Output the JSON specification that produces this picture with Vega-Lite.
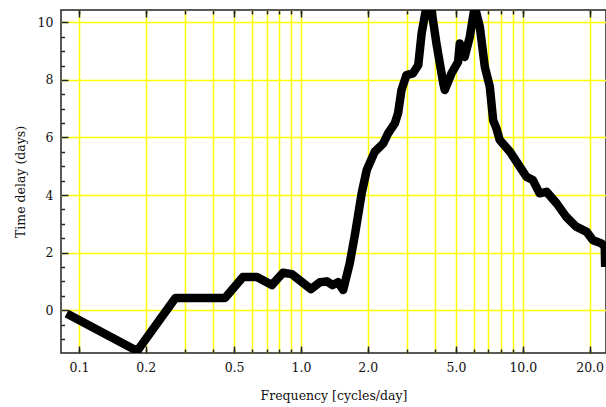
{
  "$schema": "https://vega.github.io/schema/vega-lite/v6.json",
  "autosize": "none",
  "width": 545,
  "height": 343,
  "padding": {"left": 61, "top": 10, "right": 0, "bottom": 54},
  "background": "white",
  "config": {
    "view": {"stroke": "#222", "strokeWidth": 1.5},
    "axis": {"labelFont": "DejaVu Serif", "titleFont": "DejaVu Serif", "labelColor": "#111", "titleColor": "#111", "titleFontWeight": "normal", "domain": false, "tickColor": "#222", "tickWidth": 1.5}
  },
  "data": {"values": [
    {"f": 0.088, "d": -0.12},
    {"f": 0.183, "d": -1.42},
    {"f": 0.272, "d": 0.42},
    {"f": 0.455, "d": 0.42},
    {"f": 0.548, "d": 1.15},
    {"f": 0.634, "d": 1.15},
    {"f": 0.74, "d": 0.87},
    {"f": 0.83, "d": 1.3},
    {"f": 0.91, "d": 1.25},
    {"f": 1.11, "d": 0.73},
    {"f": 1.22, "d": 0.97},
    {"f": 1.31, "d": 1.0},
    {"f": 1.39, "d": 0.87},
    {"f": 1.47, "d": 0.97},
    {"f": 1.55, "d": 0.7},
    {"f": 1.66, "d": 1.63},
    {"f": 1.75, "d": 2.6},
    {"f": 1.88, "d": 4.07},
    {"f": 1.98, "d": 4.87},
    {"f": 2.15, "d": 5.5},
    {"f": 2.35, "d": 5.79},
    {"f": 2.47, "d": 6.14},
    {"f": 2.65, "d": 6.49},
    {"f": 2.74, "d": 6.84},
    {"f": 2.84, "d": 7.65},
    {"f": 2.99, "d": 8.17},
    {"f": 3.2, "d": 8.23},
    {"f": 3.38, "d": 8.52},
    {"f": 3.5, "d": 9.62},
    {"f": 3.68, "d": 10.55},
    {"f": 3.88, "d": 10.4},
    {"f": 4.08, "d": 9.27},
    {"f": 4.38, "d": 7.88},
    {"f": 4.45, "d": 7.65},
    {"f": 4.77, "d": 8.23},
    {"f": 5.11, "d": 8.63},
    {"f": 5.2, "d": 9.27},
    {"f": 5.47, "d": 8.8},
    {"f": 5.77, "d": 9.5},
    {"f": 6.07, "d": 10.55},
    {"f": 6.4, "d": 9.85},
    {"f": 6.74, "d": 8.46},
    {"f": 7.1, "d": 7.76},
    {"f": 7.35, "d": 6.6},
    {"f": 7.6, "d": 6.32},
    {"f": 7.87, "d": 5.91},
    {"f": 8.76, "d": 5.5},
    {"f": 9.7, "d": 4.98},
    {"f": 10.39, "d": 4.63},
    {"f": 11.1, "d": 4.52},
    {"f": 11.9, "d": 4.06},
    {"f": 12.8, "d": 4.11},
    {"f": 14.2, "d": 3.71},
    {"f": 15.7, "d": 3.24},
    {"f": 17.4, "d": 2.9},
    {"f": 19.4, "d": 2.72},
    {"f": 20.7, "d": 2.43},
    {"f": 22.6, "d": 2.32},
    {"f": 23.4, "d": 2.2},
    {"f": 23.5, "d": 1.5}
  ]},
  "resolve": {"axis": {"x": "independent", "y": "independent"}},
  "layer": [
    {
      "mark": {"type": "line", "opacity": 0},
      "encoding": {
        "x": {"field": "f", "type": "quantitative", "scale": {"type": "log", "domain": [0.083, 23.7], "nice": false},
          "axis": {"orient": "bottom", "values": [0.1,0.2,0.3,0.4,0.5,0.6,0.7,0.8,0.9,1,2,3,4,5,6,7,8,9,10,20], "labels": false, "title": null, "grid": true, "gridColor": "#ffff00", "gridWidth": 1.5, "gridOpacity": 1, "tickSize": -4}},
        "y": {"field": "d", "type": "quantitative", "scale": {"domain": [-1.49, 10.43], "nice": false, "zero": false},
          "axis": {"orient": "left", "values": [0,2,4,6,8,10], "labels": false, "title": null, "grid": true, "gridColor": "#ffff00", "gridWidth": 1.5, "gridOpacity": 1, "tickSize": -7}}
      }
    },
    {
      "mark": {"type": "line", "opacity": 0},
      "encoding": {
        "x": {"field": "f", "type": "quantitative",
          "axis": {"orient": "bottom", "values": [0.1,0.2,0.5,1,2,5,10,20], "format": ".1f", "labelFontSize": 12.5, "labelPadding": 15, "tickSize": -7, "title": "Frequency [cycles/day]", "titleFontSize": 12.5, "titlePadding": 16, "labelFlush": false, "grid": false}},
        "y": {"field": "d", "type": "quantitative",
          "axis": {"orient": "left", "values": [-1,-0.5,0.5,1,1.5,2.5,3,3.5,4.5,5,5.5,6.5,7,7.5,8.5,9,9.5], "labels": false, "title": "Time delay (days)", "titleFontSize": 12.5, "titlePadding": 33, "tickSize": -3.5, "grid": false}}
      }
    },
    {
      "mark": {"type": "line", "opacity": 0},
      "encoding": {
        "x": {"field": "f", "type": "quantitative",
          "axis": {"orient": "top", "values": [0.1,0.2,0.3,0.4,0.5,0.6,0.7,0.8,0.9,1,2,3,4,5,6,7,8,9,10,20], "labels": false, "title": null, "tickSize": -4, "grid": false}},
        "y": {"field": "d", "type": "quantitative",
          "axis": {"orient": "left", "values": [0,2,4,6,8,10], "labelFontSize": 12.5, "labelPadding": 8, "tickSize": 0, "ticks": false, "title": null, "grid": false}}
      }
    },
    {
      "mark": {"type": "line", "color": "#000", "strokeWidth": 8.5, "strokeJoin": "round", "strokeCap": "butt", "clip": true},
      "encoding": {
        "x": {"field": "f", "type": "quantitative",
          "axis": {"orient": "top", "values": [0.1,0.2,0.5,1,2,5,10,20], "labels": false, "title": null, "tickSize": -7, "grid": false}},
        "y": {"field": "d", "type": "quantitative", "axis": null}
      }
    }
  ]
}
